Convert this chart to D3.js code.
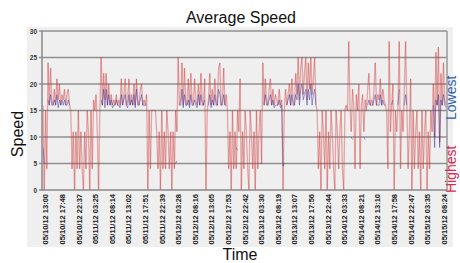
<!DOCTYPE html>
<html>
<head>
<meta charset="utf-8">
<script src="https://cdn.jsdelivr.net/npm/d3@7"></script>
<style>
  body { margin: 0; background: #fff; }
  svg { display: block; font-family: "Liberation Sans", Arial, sans-serif; }
</style>
</head>
<body>
<svg id="chart" width="460" height="263"></svg>
<script>
'use strict';

var speedTicks = [0, 5, 10, 15, 20, 25, 30];

var timeLabels = [
  "05/10/12 13:00", "05/10/12 17:48", "05/10/12 22:37", "05/11/12 03:25", "05/11/12 08:14",
  "05/11/12 13:02", "05/11/12 17:51", "05/11/12 22:39", "05/12/12 03:28", "05/12/12 08:16",
  "05/12/12 13:05", "05/12/12 17:53", "05/12/12 22:42", "05/13/12 03:30", "05/13/12 08:19",
  "05/13/12 13:07", "05/13/12 17:56", "05/13/12 22:44", "05/14/12 03:33", "05/14/12 08:21",
  "05/14/12 13:10", "05/14/12 17:58", "05/14/12 22:47", "05/15/12 03:35", "05/15/12 08:24"
];

// samples, left to right (20 per row)
var highest = [
  16, 0, 15, 4, 24, 16, 23, 17, 16, 19, 16, 21, 17, 20, 16, 18, 17, 19, 16, 18,
  19, 16, 15, 4, 11, 0, 11, 4, 15, 4, 11, 4, 0, 11, 4, 15, 11, 0, 15, 4,
  17, 15, 18, 11, 0, 15, 25, 16, 22, 17, 22, 16, 20, 16, 18, 16, 17, 16, 18, 16,
  17, 16, 21, 16, 18, 21, 16, 17, 21, 16, 18, 16, 20, 16, 21, 17, 16, 19, 20, 16,
  17, 16, 18, 0, 15, 4, 15, 15, 15, 15, 11, 4, 11, 0, 15, 4, 11, 4, 15, 11,
  4, 11, 0, 11, 4, 15, 11, 25, 16, 17, 24, 16, 23, 17, 16, 21, 16, 22, 17, 16,
  21, 17, 16, 20, 16, 22, 17, 16, 21, 0, 15, 17, 22, 16, 19, 16, 21, 17, 16, 23,
  24, 16, 17, 23, 16, 18, 15, 4, 11, 0, 15, 4, 11, 4, 15, 11, 21, 0, 11, 4,
  15, 11, 4, 0, 15, 11, 4, 11, 0, 15, 4, 11, 15, 5, 24, 16, 21, 17, 16, 19,
  21, 16, 19, 16, 18, 17, 16, 19, 16, 17, 0, 15, 19, 16, 18, 20, 16, 21, 17, 16,
  22, 18, 25, 17, 23, 25, 18, 22, 25, 17, 24, 19, 25, 18, 21, 25, 16, 15, 4, 11,
  0, 15, 11, 4, 15, 0, 11, 4, 15, 11, 4, 0, 15, 11, 4, 11, 15, 4, 0, 15,
  16, 15, 28, 16, 11, 19, 16, 4, 18, 15, 20, 4, 16, 18, 11, 17, 15, 19, 22, 16,
  17, 16, 19, 24, 16, 18, 17, 21, 16, 19, 17, 16, 15, 4, 28, 11, 16, 20, 0, 15,
  11, 16, 28, 4, 15, 11, 19, 28, 16, 4, 11, 21, 0, 15, 4, 11, 15, 4, 11, 0,
  15, 4, 11, 15, 0, 11, 4, 15, 11, 20, 10, 26, 16, 27, 9, 22, 16, 24, 17, 16
];

var lowest = [
  8, 5, null, null, 17, 16, 18, 16, 16, 17, 16, 18, 15.5, 17, 16, 17, 16, 17, 16, 16,
  17, 16, null, null, null, null, null, null, null, null, null, null, null, null, null, null, null, null, null, null,
  16, null, 16, null, null, null, 17, 16, 19, 15.5, 19, 16, 18, 16, 17, 15.5, 16, 16, 17, 16,
  16, 15.5, 18, 16, 17, 18, 16, 15.5, 18, 16, 17, 16, 18, 15.5, 19, 16, 16, 17, 18, 16,
  16, 16, 16, null, null, null, null, null, null, null, null, null, null, null, null, null, null, null, null, null,
  null, null, null, null, null, 5, 5.5, null, 16, 16, 19, 15.5, 18, 16, 16, 17, 15.5, 18, 16, 16,
  17, 16, 15.5, 18, 16, 18, 16, 16, 17, null, null, 16, 18, 15.5, 17, 16, 18, 16, 16, 19,
  18, 16, 16, 18, 16, 16, null, null, null, null, null, null, null, 8, 7.5, null, null, null, null, null,
  null, null, null, null, null, null, null, null, null, null, null, null, 5, 5, null, 16, 18, 16, 16, 17,
  18, 16, 17, 15.5, 16, 16, 16, 17, 15.5, 16, 4.5, 5, null, 16, 17, 18, 16, 18, 16, 16,
  18, 17, 20, 16, 19, 20, 17, 18, 19, 16, 19, 17, 20, 16, 18, 19, 16, null, null, null,
  null, null, null, null, null, null, null, null, null, null, null, null, null, null, null, null, null, null, null, null,
  16, null, null, null, 10, 9.5, null, null, 16, null, null, 5, 5, null, 10, 9.5, null, 16, 17, 16,
  16, 16, 17, 18, 16, 16, 16, 18, 16, 17, 16, 16, null, null, null, null, 16, 17, null, null,
  null, 16, 19, null, null, null, 16, 18, 16, null, null, 17, null, null, null, null, null, null, null, null,
  null, null, null, null, null, null, null, null, null, 16, 8, 17, 16, 18, 8, 17, 16, 18, 16, 15.5
];

var svg = d3.select("#chart");

var plotLeft = 42, plotRight = 447, plotTop = 31, plotBottom = 190;

var y = d3.scaleLinear().domain([0, 30]).range([plotBottom, plotTop]);
var x = d3.scaleLinear().domain([0, highest.length - 1]).range([plotLeft + 1, plotRight - 1]);
var xTime = d3.scalePoint().domain(timeLabels).range([plotLeft, plotRight]).padding(0.2);

// grey panel
svg.append("rect")
   .attr("x", 27).attr("y", 27)
   .attr("width", 426).attr("height", 220)
   .attr("fill", "#efefef");

// gridlines
svg.append("g")
   .selectAll("line")
   .data(speedTicks.slice(1))
   .join("line")
   .attr("x1", plotLeft - 3).attr("x2", plotRight)
   .attr("y1", function(d) { return y(d); })
   .attr("y2", function(d) { return y(d); })
   .attr("stroke", "#909090")
   .attr("stroke-width", 1.5);

function drawSeries(values, color, opacity, width) {
  var segs = d3.pairs(values.map(function(v, i) { return [i, v]; }))
               .filter(function(p) { return p[0][1] != null && p[1][1] != null; });
  svg.append("g")
     .selectAll("line")
     .data(segs)
     .join("line")
     .attr("x1", function(p) { return x(p[0][0]); })
     .attr("y1", function(p) { return y(p[0][1]); })
     .attr("x2", function(p) { return x(p[1][0]); })
     .attr("y2", function(p) { return y(p[1][1]); })
     .attr("stroke", color)
     .attr("stroke-opacity", opacity)
     .attr("stroke-width", width);
}

drawSeries(highest, "#cf3434", 0.4, 1.3);
drawSeries(lowest, "#2b2b9c", 0.45, 1);

// frame
svg.append("line")
   .attr("x1", plotLeft).attr("x2", plotLeft).attr("y1", plotTop).attr("y2", plotBottom + 1)
   .attr("stroke", "#8a8a8a").attr("stroke-width", 1.5);
svg.append("line")
   .attr("x1", plotRight).attr("x2", plotRight).attr("y1", plotTop).attr("y2", plotBottom)
   .attr("stroke", "#9a9a9a").attr("stroke-width", 1.5);
svg.append("line")
   .attr("x1", plotLeft - 3).attr("x2", plotRight).attr("y1", plotBottom).attr("y2", plotBottom)
   .attr("stroke", "#8a8a8a").attr("stroke-width", 1.5);

// y axis labels
var yAxis = svg.append("g")
   .attr("transform", "translate(" + (plotLeft - 2) + ",0)")
   .call(d3.axisLeft(y).tickValues(speedTicks).tickSize(0).tickPadding(3));
yAxis.select(".domain").remove();
yAxis.selectAll("text")
     .attr("font-size", 6.5)
     .attr("font-weight", "bold")
     .attr("fill", "#333");

// x axis labels
var xAxis = svg.append("g")
   .attr("transform", "translate(0," + plotBottom + ")")
   .call(d3.axisBottom(xTime).tickSize(0).tickPadding(0));
xAxis.select(".domain").remove();
xAxis.selectAll("text")
     .attr("font-size", 7.5)
     .attr("font-weight", "bold")
     .attr("fill", "#222")
     .attr("text-anchor", "end")
     .attr("dy", "0.35em")
     .attr("transform", "translate(0,4) rotate(-90)")
     .attr("y", 0).attr("x", 0);

// titles
svg.append("text")
   .attr("x", 241).attr("y", 23)
   .attr("text-anchor", "middle")
   .attr("font-size", 16)
   .attr("fill", "#111")
   .text("Average Speed");

svg.append("text")
   .attr("transform", "translate(23,134) rotate(-90)")
   .attr("text-anchor", "middle")
   .attr("font-size", 16)
   .attr("fill", "#111")
   .text("Speed");

svg.append("text")
   .attr("x", 240).attr("y", 260)
   .attr("text-anchor", "middle")
   .attr("font-size", 16)
   .attr("fill", "#111")
   .text("Time");

// legend down the right edge
svg.append("text")
   .attr("transform", "translate(456,193) rotate(-90)")
   .attr("font-size", 14)
   .attr("fill", "#d9294f")
   .text("Highest");

svg.append("text")
   .attr("transform", "translate(456,120) rotate(-90)")
   .attr("font-size", 14)
   .attr("fill", "#2f5fb0")
   .text("Lowest");
</script>
</body>
</html>
